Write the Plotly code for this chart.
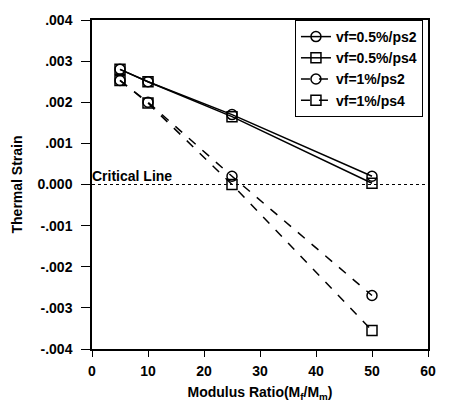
import plotly.graph_objects as go

modulus_ratio = [5, 10, 25, 50]
s_05_ps2 = [0.0028, 0.0025, 0.0017, 0.0002]
s_05_ps4 = [0.0028, 0.0025, 0.00165, 0.00003]
s_1_ps2 = [0.00253, 0.002, 0.0002, -0.0027]
s_1_ps4 = [0.00253, 0.00198, 0.0, -0.00355]

series = [
    ("vf=0.5%/ps2", s_05_ps2, "circle-open", "solid"),
    ("vf=0.5%/ps4", s_05_ps4, "square-open", "solid"),
    ("vf=1%/ps2", s_1_ps2, "circle-open", "dash"),
    ("vf=1%/ps4", s_1_ps4, "square-open", "dash"),
]

y_ticks = [0.004, 0.003, 0.002, 0.001, 0.0, -0.001, -0.002, -0.003, -0.004]
y_ticktext = [".004", ".003", ".002", ".001", "0.000", "-.001", "-.002", "-.003", "-.004"]
x_ticks = [0, 10, 20, 30, 40, 50, 60]

font_family = "Liberation Sans, Arial, sans-serif"
bold14 = dict(family=font_family, size=14, color="black", weight="bold")

fig = go.Figure()

# critical line (dotted at zero)
fig.add_trace(go.Scatter(
    x=[0, 60], y=[0, 0], mode="lines",
    line=dict(color="black", width=1, dash="dot"),
    showlegend=False, hoverinfo="skip",
))

for name, ys, sym, dash in series:
    fig.add_trace(go.Scatter(
        x=modulus_ratio, y=ys, name=name, mode="lines+markers",
        line=dict(color="black", width=1.5, dash=dash),
        marker=dict(symbol=sym, size=10, color="black", line=dict(width=1.5, color="black")),
    ))

fig.add_trace(go.Scatter(
    x=[0], y=[0], mode="text", text=["Critical Line"],
    textposition="top right",
    textfont=dict(family=font_family, size=14, color="black", weight="bold"),
    showlegend=False, hoverinfo="skip", cliponaxis=False,
))

fig.update_layout(
    width=450, height=415,
    margin=dict(l=92, r=22, t=13, b=66),
    paper_bgcolor="white", plot_bgcolor="white",
    font=bold14,
    legend=dict(
        x=0.985, y=1.0, xanchor="right", yanchor="top",
        bordercolor="black", borderwidth=1, bgcolor="white",
        font=dict(family=font_family, size=14, color="black", weight="bold"),
        tracegroupgap=0, itemwidth=30,
    ),
    xaxis=dict(
        range=[0, 60], tickvals=x_ticks, ticks="outside", ticklen=6,
        tickcolor="black", showline=True, linecolor="black", linewidth=1.5,
        mirror=True, showgrid=False, zeroline=False,
        tickfont=bold14, ticklabelstandoff=2,
        title=dict(text="Modulus Ratio(M<sub>f</sub>/M<sub>m</sub>)", font=bold14, standoff=10),
    ),
    yaxis=dict(
        range=[-0.004, 0.004], tickvals=y_ticks, ticktext=y_ticktext,
        ticks="outside", ticklen=9, tickcolor="black",
        showline=True, linecolor="black", linewidth=1.5, mirror=True,
        showgrid=False, zeroline=False,
        tickfont=bold14, ticklabelstandoff=6,
        title=dict(text="Thermal Strain", font=bold14, standoff=12),
    ),
)

fig.write_html("out.html")
